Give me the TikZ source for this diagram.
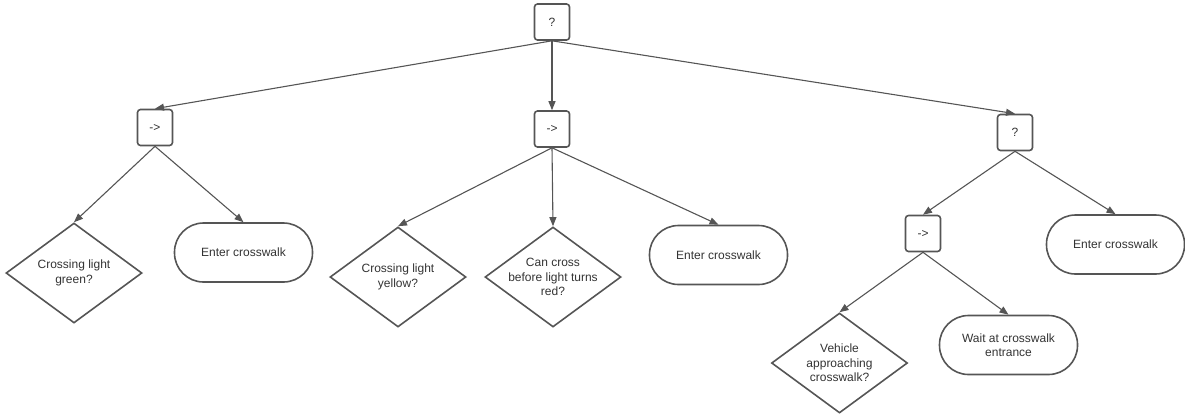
\documentclass[tikz,border=0pt]{standalone}
\usepackage{fontspec}
\setmainfont{Liberation Sans}
\usetikzlibrary{arrows.meta,shapes.geometric}
\definecolor{edgegray}{HTML}{555555}
\definecolor{txtgray}{HTML}{333333}
\begin{document}
\begin{tikzpicture}[x=1pt,y=-1pt,
  every node/.style={font=\fontsize{12}{14.5}\selectfont, text=txtgray},
  ctrl/.style={draw=edgegray, line width=1.6pt, rounded corners=3pt, minimum width=35pt, minimum height=36pt, inner sep=0pt},
  term/.style={draw=edgegray, line width=1.6pt, rounded corners=29pt, minimum width=138pt, minimum height=59pt, inner sep=0pt, align=center},
  cond/.style={draw=edgegray, line width=1.6pt, diamond, minimum width=136pt, minimum height=100pt, inner sep=0pt},
  lbl/.style={align=center, font=\fontsize{12}{14.5}\selectfont, text=txtgray},
  conn/.style={draw=edgegray, line width=1.1pt, -{Triangle[length=9pt,width=7pt]}}
]
\useasboundingbox (0,0) rectangle (1185,416);
\node[ctrl] (root) at (552,22) {?};
\node[ctrl] (seqA) at (155,127.5) {->};
\node[ctrl] (seqB) at (552,129) {->};
\node[ctrl] (selB) at (1015,132.5) {?};
\node[ctrl] (seqC) at (923,233.5) {->};

\node[cond, label={[lbl]center:Crossing light\\green?}] (dA) at (74,273) {};
\node[term] (eA) at (243.5,252.5) {Enter crosswalk};
\node[cond, label={[lbl]center:Crossing light\\yellow?}] (dB) at (398,277) {};
\node[cond, label={[lbl]center:Can cross\\before light turns\\red?}] (dC) at (553,277) {};
\node[term] (eB) at (718.5,255) {Enter crosswalk};
\node[term] (eC) at (1115.5,244.5) {Enter crosswalk};
\node[cond, label={[lbl]center:Vehicle\\approaching\\crosswalk?}] (dD) at (839.5,363) {};
\node[term] (wC) at (1008.5,345) {Wait at crosswalk\\entrance};

\draw[conn] (root.south) -- (seqA.north);
\draw[conn] (root.south) -- (seqB.north);
\draw[conn] (root.south) -- (selB.north);
\draw[conn] (seqA.south) -- (dA.north);
\draw[conn] (seqA.south) -- (eA.north);
\draw[conn] (seqB.south) -- (dB.north);
\draw[conn] (seqB.south) -- (dC.north);
\draw[conn] (seqB.south) -- (eB.north);
\draw[conn] (selB.south) -- (seqC.north);
\draw[conn] (selB.south) -- (eC.north);
\draw[conn] (seqC.south) -- (dD.north);
\draw[conn] (seqC.south) -- (wC.north);
\end{tikzpicture}
\end{document}
